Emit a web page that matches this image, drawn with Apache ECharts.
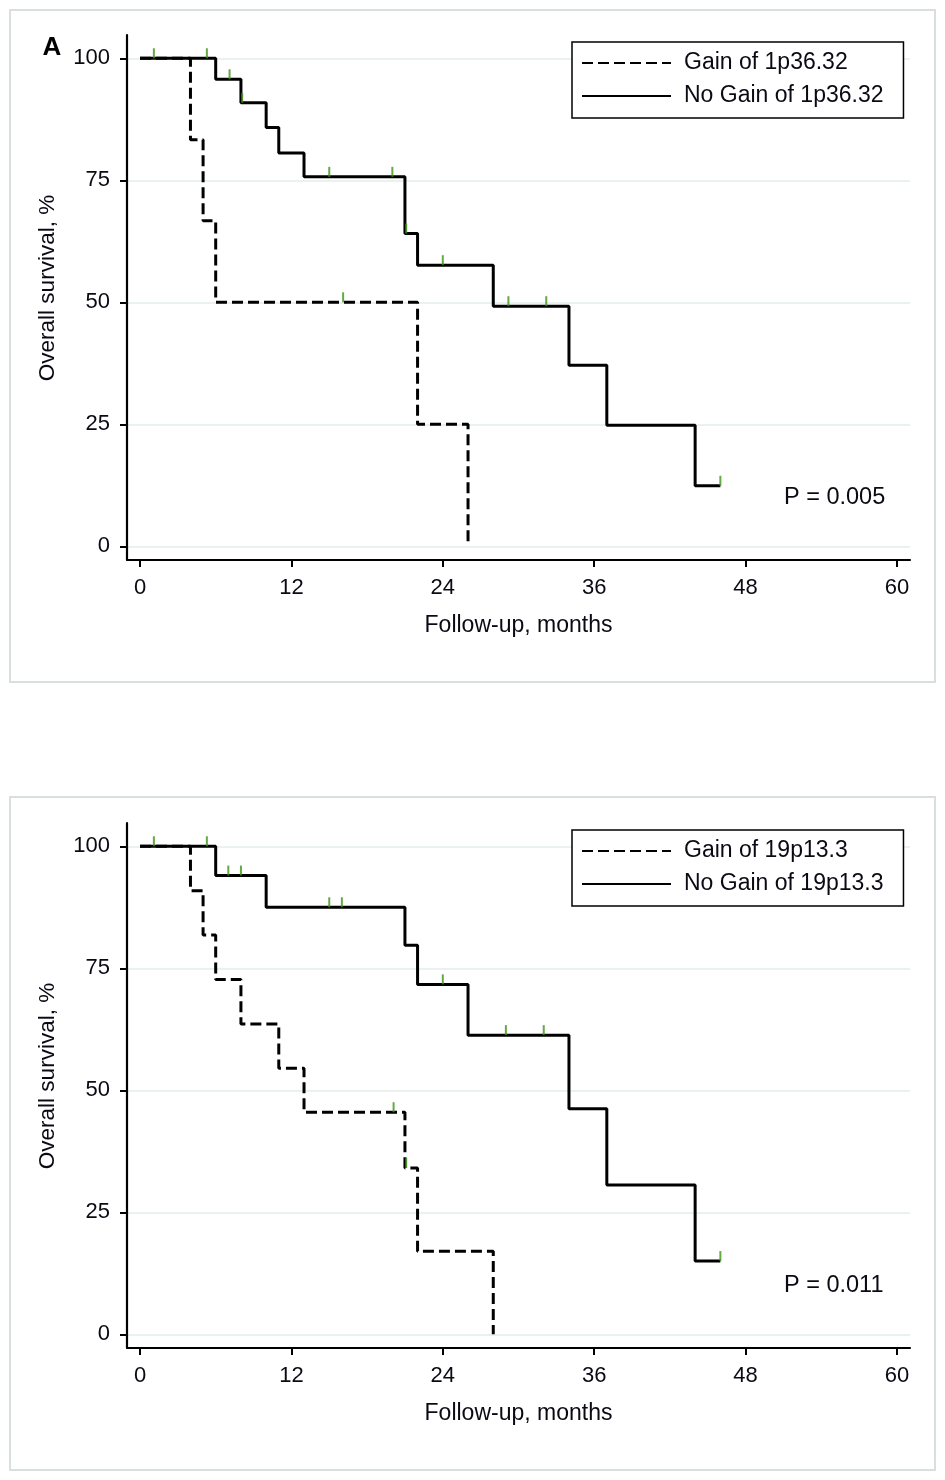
<!DOCTYPE html>
<html>
<head>
<meta charset="utf-8">
<script src="https://cdn.jsdelivr.net/npm/echarts@6/dist/echarts.min.js"></script>
<style>
html,body{margin:0;padding:0;background:#fff;}
#chart{width:945px;height:1480px;}
</style>
</head>
<body>
<div id="chart"></div>
<script>
// ---------- data ----------
const xTicks = [0, 12, 24, 36, 48, 60];
const yTicks = [0, 25, 50, 75, 100];

// Panel A
const namesA = ['Gain of 1p36.32', 'No Gain of 1p36.32'];
const gainA_t = [0, 4, 5, 6, 22, 26];
const gainA_s = [100, 83.3, 66.7, 50, 25, 0];
const gainA_cens = [[16.1, 50]];
const noGainA_t = [0, 6, 8, 10, 11, 13, 21, 22, 28, 34, 37, 44, 46];
const noGainA_s = [100, 95.7, 90.9, 85.8, 80.6, 75.7, 64.1, 57.6, 49.2, 37.1, 24.8, 12.4, 12.4];
const noGainA_cens = [[1.1, 100], [5.3, 100], [7.1, 95.7], [8.1, 90.9], [15, 75.7], [20, 75.7], [21.1, 64.1], [24, 57.6], [29.2, 49.2], [32.2, 49.2], [46, 12.4]];
const pA = 'P = 0.005';

// Panel B
const namesB = ['Gain of 19p13.3', 'No Gain of 19p13.3'];
const gainB_t = [0, 4, 5, 6, 8, 11, 13, 21, 22, 28];
const gainB_s = [100, 90.9, 81.8, 72.7, 63.6, 54.5, 45.5, 34.1, 17.0, 0];
const gainB_cens = [[20.1, 45.5], [21.1, 34.1]];
const noGainB_t = [0, 6, 10, 21, 22, 26, 34, 37, 44, 46];
const noGainB_s = [100, 94.0, 87.5, 79.7, 71.7, 61.3, 46.2, 30.6, 15.0, 15.0];
const noGainB_cens = [[1.1, 100], [5.3, 100], [7, 94], [8, 94], [15, 87.5], [16, 87.5], [24, 71.7], [29, 61.3], [32, 61.3], [46, 15]];
const pB = 'P = 0.011';

const xTitle = 'Follow-up, months';
const yTitle = 'Overall survival, %';
const panelLabel = 'A';

// ---------- build ----------
const FONT = "'Liberation Sans', Arial, sans-serif";
const TXT = '#0a0a14';
const pair = (t, s) => t.map((v, i) => [v, s[i]]);

function xAxisCfg(idx) {
  return {
    type: 'value', gridIndex: idx, min: -1.03, max: 61.03,
    name: xTitle, nameLocation: 'middle', nameGap: 54,
    nameTextStyle: {fontFamily: FONT, fontSize: 23, color: TXT},
    axisLine: {show: true, onZero: false, lineStyle: {color: '#000', width: 2.2}},
    axisTick: {show: true, length: 7, lineStyle: {color: '#000', width: 2}, customValues: xTicks},
    axisLabel: {fontFamily: FONT, fontSize: 22, color: TXT, margin: 17, customValues: xTicks},
    splitLine: {show: false}
  };
}
function yAxisCfg(idx) {
  return {
    type: 'value', gridIndex: idx, min: -2.81, max: 104.77,
    axisLine: {show: true, onZero: false, lineStyle: {color: '#000', width: 2.2}},
    axisTick: {show: true, length: 7, lineStyle: {color: '#000', width: 2}, customValues: yTicks},
    axisLabel: {fontFamily: FONT, fontSize: 22, color: TXT, margin: 17, customValues: yTicks},
    splitLine: {show: true, lineStyle: {color: '#e3ecec', width: 1.5}}
  };
}
function kmLine(name, data, idx, dashed) {
  return {
    name, type: 'line', step: 'end', xAxisIndex: idx, yAxisIndex: idx,
    data, symbol: 'none', showSymbol: false, silent: true, z: 3,
    lineStyle: {color: '#000', width: 3, type: dashed ? [11, 5] : 'solid'},
    itemStyle: {color: '#000'}
  };
}
function censor(data, idx) {
  return {
    type: 'scatter', xAxisIndex: idx, yAxisIndex: idx, data, silent: true, z: 4,
    symbol: 'rect', symbolSize: [2, 10], symbolOffset: [0, -5],
    itemStyle: {color: '#3f9218'}
  };
}
function legendCfg(names, top) {
  return {
    data: names.map(n => ({name: n})), orient: 'vertical', left: 572, top: top,
    itemWidth: 89, itemHeight: 14, itemGap: 10, itemTextGap: 14,
    padding: [9.5, 20, 10.5, 9], borderColor: '#000', borderWidth: 1.5, borderRadius: 0,
    backgroundColor: '#fff', selectedMode: false,
    itemStyle: {opacity: 0, borderWidth: 0},
    textStyle: {fontFamily: FONT, fontSize: 23, color: TXT, lineHeight: 23, padding: [0, 0, 0, 8]}
  };
}

const OFF = 788;
const option = {
  animation: false,
  backgroundColor: '#fff',
  grid: [
    {left: 127, top: 35, width: 783, height: 525},
    {left: 127, top: 35 + OFF, width: 783, height: 525}
  ],
  xAxis: [xAxisCfg(0), xAxisCfg(1)],
  yAxis: [yAxisCfg(0), yAxisCfg(1)],
  legend: [legendCfg(namesA, 42), legendCfg(namesB, 42 + OFF)],
  series: [
    kmLine(namesA[0], pair(gainA_t, gainA_s), 0, true),
    kmLine(namesA[1], pair(noGainA_t, noGainA_s), 0, false),
    censor(gainA_cens, 0),
    censor(noGainA_cens, 0),
    kmLine(namesB[0], pair(gainB_t, gainB_s), 1, true),
    kmLine(namesB[1], pair(noGainB_t, noGainB_s), 1, false),
    censor(gainB_cens, 1),
    censor(noGainB_cens, 1)
  ],
  graphic: [
    {type: 'rect', shape: {x: 10, y: 10, width: 925, height: 672}, style: {fill: 'none', stroke: '#d9dfdf', lineWidth: 2}, z: -1},
    {type: 'rect', shape: {x: 10, y: 797, width: 925, height: 673}, style: {fill: 'none', stroke: '#d9dfdf', lineWidth: 2}, z: -1},
    {type: 'text', x: 52, y: 48, style: {text: panelLabel, font: "bold 26px " + FONT, fill: '#000', textAlign: 'center', textVerticalAlign: 'middle'}},
    {type: 'text', x: 47.5, y: 288, rotation: Math.PI / 2, style: {text: yTitle, font: "22.5px " + FONT, fill: TXT, textAlign: 'center', textVerticalAlign: 'middle'}},
    {type: 'text', x: 47.5, y: 288 + OFF, rotation: Math.PI / 2, style: {text: yTitle, font: "22.5px " + FONT, fill: TXT, textAlign: 'center', textVerticalAlign: 'middle'}},
    {type: 'text', x: 784, y: 498, style: {text: pA, font: "23.5px " + FONT, fill: TXT, textAlign: 'left', textVerticalAlign: 'middle'}},
    {type: 'text', x: 784, y: 498 + OFF, style: {text: pB, font: "23.5px " + FONT, fill: TXT, textAlign: 'left', textVerticalAlign: 'middle'}}
  ]
};

const chart = echarts.init(document.getElementById('chart'), null, {renderer: 'canvas', width: 945, height: 1480});
chart.setOption(option);
</script>
</body>
</html>
